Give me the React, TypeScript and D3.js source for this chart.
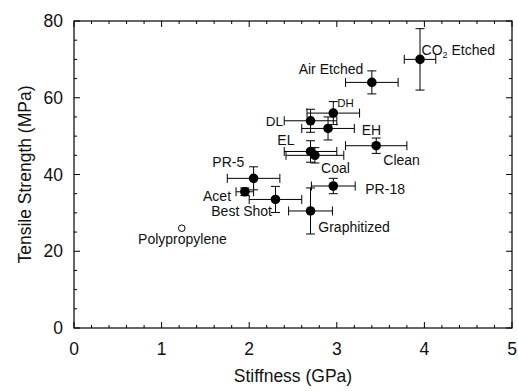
import React from "react";
import * as d3 from "d3";

const names = ["CO2 Etched", "Air Etched", "DH", "DL", "EH", "EL", "Coal", "Clean", "PR-5", "Acet", "Best Shot", "PR-18", "Graphitized"];
const stiffness = [3.95, 3.40, 2.96, 2.70, 2.90, 2.70, 2.75, 3.45, 2.05, 1.95, 2.30, 2.96, 2.70];
const stiffnessErr = [0.18, 0.30, 0.30, 0.30, 0.30, 0.30, 0.33, 0.35, 0.30, 0.10, 0.30, 0.25, 0.25];
const strength = [70, 64, 56, 54, 52, 46, 45, 47.5, 39, 35.5, 33.5, 37, 30.5];
const strengthErr = [8, 3, 3, 3, 3, 2.8, 2, 2, 3, 1, 3.4, 2, 6];

const refName = "Polypropylene";
const refStiffness = 1.23;
const refStrength = 26;

// label anchors in data units
const labelText = ["CO2 Etched", "Air Etched", "DH", "DL", "EH", "EL", "Coal", "Clean", "PR-5", "Acet", "Best Shot", "PR-18", "Graphitized", "Polypropylene"];
const labelX = [3.968, 3.302, 3.006, 2.188, 3.284, 2.321, 2.82, 3.531, 1.579, 1.473, 1.567, 3.325, 2.789, 1.238];
const labelY = [71.1, 66.1, 57.5, 52.6, 50.3, 47.7, 40.4, 42.4, 42.0, 33.2, 29.2, 34.8, 24.9, 21.8];

const xTicks = [0, 1, 2, 3, 4, 5];
const yTicks = [0, 20, 40, 60, 80];

const W = 518, H = 391;
const FONT = "'Liberation Sans', Arial, Helvetica, sans-serif";

export default function App() {
  const x = d3.scaleLinear().domain([0, 5]).range([74, 512]);
  const y = d3.scaleLinear().domain([0, 80]).range([328, 21]);
  const xMinor = d3.range(0, 5.0001, 0.2);
  const yMinor = d3.range(0, 80.0001, 5);
  const [x0, x1] = x.range();
  const [y0, y1] = y.range();
  const cap = 4.5;
  const col = "#000";

  const anchors = labelText.map((t) => (t === "Air Etched" ? "end" : t === "Polypropylene" ? "middle" : "start"));

  return (
    <svg width={W} height={H} style={{ position: "absolute", left: 0, top: 0, background: "#fff" }} fontFamily={FONT}>
      <rect x={0} y={0} width={W} height={H} fill="#fff" />
      {/* minor ticks */}
      {xMinor.map((v, i) => {
        const major = Math.abs(v - Math.round(v)) < 1e-6;
        const len = major ? 6 : 3;
        return (
          <g key={"xm" + i}>
            <line x1={x(v)} x2={x(v)} y1={y0} y2={y0 - len} stroke={col} strokeWidth={1} />
            <line x1={x(v)} x2={x(v)} y1={y1} y2={y1 + len} stroke={col} strokeWidth={1} />
          </g>
        );
      })}
      {yMinor.map((v, i) => {
        const major = v % 20 === 0;
        const len = major ? 6 : 3;
        return (
          <g key={"ym" + i}>
            <line x1={x0} x2={x0 + len} y1={y(v)} y2={y(v)} stroke={col} strokeWidth={1} />
            <line x1={x1} x2={x1 - len} y1={y(v)} y2={y(v)} stroke={col} strokeWidth={1} />
          </g>
        );
      })}
      <rect x={x0} y={y1} width={x1 - x0} height={y0 - y1} fill="none" stroke={col} strokeWidth={1.2} />
      {xTicks.map((v) => (
        <text key={"xt" + v} x={x(v)} y={355} textAnchor="middle" fontSize={17.5} fill="#111">{v}</text>
      ))}
      {yTicks.map((v) => (
        <text key={"yt" + v} x={63} y={y(v)} dy="0.35em" textAnchor="end" fontSize={17.5} fill="#111">{v}</text>
      ))}
      <text x={(x0 + x1) / 2} y={382} textAnchor="middle" fontSize={17.5} fill="#111">Stiffness (GPa)</text>
      <text transform={`translate(31,${(y0 + y1) / 2}) rotate(-90)`} textAnchor="middle" fontSize={17.5} fill="#111">Tensile Strength (MPa)</text>

      {/* error bars */}
      {names.map((n, i) => {
        const cx = x(stiffness[i]);
        const cy = y(strength[i]);
        const xl = x(stiffness[i] - stiffnessErr[i]);
        const xr = x(stiffness[i] + stiffnessErr[i]);
        const yt = y(strength[i] + strengthErr[i]);
        const yb = y(strength[i] - strengthErr[i]);
        return (
          <g key={"eb" + i} stroke={col} strokeWidth={1}>
            <line x1={xl} x2={xr} y1={cy} y2={cy} />
            <line x1={xl} x2={xl} y1={cy - cap} y2={cy + cap} />
            <line x1={xr} x2={xr} y1={cy - cap} y2={cy + cap} />
            <line x1={cx} x2={cx} y1={yt} y2={yb} />
            <line x1={cx - cap} x2={cx + cap} y1={yt} y2={yt} />
            <line x1={cx - cap} x2={cx + cap} y1={yb} y2={yb} />
          </g>
        );
      })}
      {names.map((n, i) => (
        <circle key={"pt" + i} cx={x(stiffness[i])} cy={y(strength[i])} r={4.8} fill="#000" />
      ))}
      <circle cx={x(refStiffness)} cy={y(refStrength)} r={3.3} fill="#fff" stroke="#000" strokeWidth={1} />
      <title>{refName}</title>

      {labelText.map((t, i) => {
        const fs = t === "DH" ? 11.5 : t === "DL" ? 13.5 : 14;
        if (t === "CO2 Etched") {
          return (
            <text key={"lb" + i} x={x(labelX[i])} y={y(labelY[i])} fontSize={fs} fill="#111">
              CO<tspan fontSize={9} dy={3}>2</tspan><tspan dy={-3}> Etched</tspan>
            </text>
          );
        }
        return (
          <text key={"lb" + i} x={x(labelX[i])} y={y(labelY[i])} fontSize={fs} textAnchor={anchors[i]} fill="#111">{t}</text>
        );
      })}
    </svg>
  );
}
